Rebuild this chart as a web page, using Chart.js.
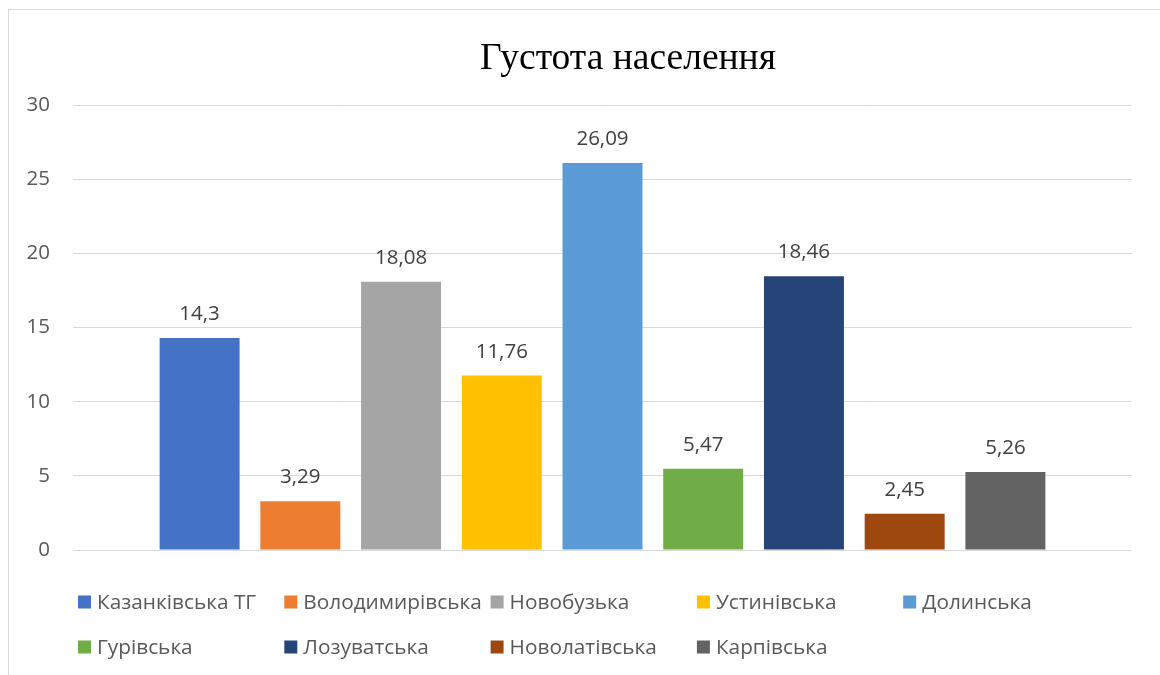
<!DOCTYPE html>
<html>
<head>
<meta charset="utf-8">
<script src="https://cdn.jsdelivr.net/npm/chart.js@4/dist/chart.umd.min.js"></script>
<style>
  html, body { margin: 0; padding: 0; background: #fff; overflow: hidden; }
  #wrap { position: relative; width: 1160px; height: 675px; }
  #frame { position: absolute; left: 8px; top: 9px; width: 1200px; height: 700px;
           border-left: 1px solid #d9d9d9; border-top: 1px solid #d9d9d9; }
  canvas { position: absolute; left: 0; top: 0; }
</style>
</head>
<body>
<div id="wrap">
  <div id="frame"></div>
  <canvas id="chart" width="1160" height="675"></canvas>
</div>
<script>
// Data
const chartTitle = 'Густота населення';
const seriesNames = ['Казанківська ТГ', 'Володимирівська', 'Новобузька', 'Устинівська', 'Долинська',
                     'Гурівська', 'Лозуватська', 'Новолатівська', 'Карпівська'];
const seriesValues = [14.3, 3.29, 18.08, 11.76, 26.09, 5.47, 18.46, 2.45, 5.26];
const seriesColors = ['#4472C4', '#ED7D31', '#A5A5A5', '#FFC000', '#5B9BD5',
                      '#70AD47', '#264478', '#9E480E', '#636363'];
const yMin = 0, yMax = 30, yStep = 5;

const font = '"Open Sans", sans-serif';

function fmt(v) {
    return String(v).replace('.', ',');
}

// value labels above the bars
const valueLabels = {
    id: 'valueLabels',
    afterDatasetsDraw(chart) {
        const ctx = chart.ctx;
        ctx.save();
        ctx.font = '20.5px ' + font;
        ctx.fillStyle = '#404040';
        ctx.textAlign = 'center';
        ctx.textBaseline = 'alphabetic';
        chart.data.datasets.forEach((ds, i) => {
            const bar = chart.getDatasetMeta(i).data[0];
            ctx.fillText(fmt(ds.data[0]), bar.x, bar.y - 18);
        });
        ctx.restore();
    }
};

// title + legend in Excel layout (fixed columns)
const excelBits = {
    id: 'excelBits',
    afterDraw(chart) {
        const ctx = chart.ctx;
        ctx.save();
        ctx.fillStyle = '#000';
        ctx.font = '37.5px "Liberation Serif", "Times New Roman", serif';
        ctx.textAlign = 'center';
        ctx.textBaseline = 'middle';
        ctx.fillText(chartTitle, 628, 59);

        ctx.font = '20.8px ' + font;
        ctx.textAlign = 'left';
        chart.data.datasets.forEach((ds, i) => {
            const col = i % 5, row = Math.floor(i / 5);
            const x = 78 + col * 206.3;
            const y = 602 + row * 45;
            ctx.fillStyle = ds.backgroundColor;
            ctx.fillRect(x, y - 6.5, 13, 13);
            ctx.fillStyle = '#595959';
            ctx.fillText(ds.label, x + 19, y + 1);
        });
        ctx.restore();
    }
};

const ctx = document.getElementById('chart').getContext('2d');
const chart = new Chart(ctx, {
    type: 'bar',
    data: {
        labels: [''],
        datasets: seriesNames.map((name, i) => ({
            label: name,
            data: [seriesValues[i]],
            backgroundColor: seriesColors[i],
            categoryPercentage: 0.856,
            barPercentage: 0.794
        }))
    },
    options: {
        responsive: false,
        animation: false,
        layout: { padding: { top: 105, bottom: 125, right: 28, left: 0 } },
        plugins: {
            legend: { display: false },
            title: { display: false },
            tooltip: { enabled: false }
        },
        scales: {
            x: { display: false },
            y: {
                min: yMin,
                max: yMax,
                afterFit: s => { s.width = 73; },
                border: { display: false },
                grid: { color: '#d9d9d9', lineWidth: 1, drawTicks: false },
                ticks: {
                    stepSize: yStep,
                    padding: 23,
                    color: '#595959',
                    font: { family: font, size: 20.5 }
                }
            }
        }
    },
    plugins: [valueLabels, excelBits]
});
</script>
</body>
</html>
